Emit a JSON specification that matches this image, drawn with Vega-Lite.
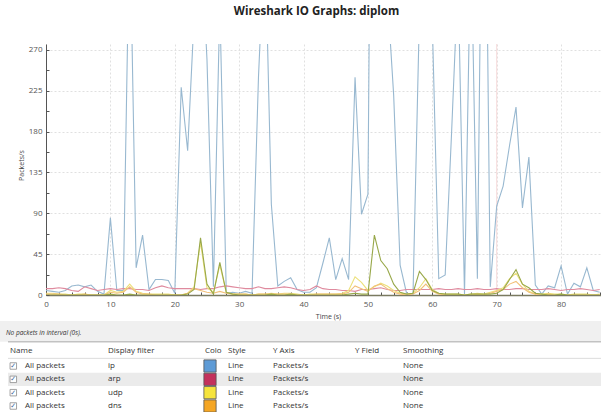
{
  "$schema": "https://vega.github.io/schema/vega-lite/v6.json",
  "autosize": {"type": "none"},
  "padding": {"left": 46, "top": 44, "right": 0, "bottom": 117},
  "width": 555,
  "height": 251,
  "background": "white",
  "config": {"view": {"stroke": null}, "font": "Open Sans"},
  "title": {"text": "Wireshark IO Graphs: diplom", "font": "Open Sans", "fontSize": 11.5, "fontWeight": "bold", "color": "#222222", "anchor": "middle", "dx": -7, "offset": 17, "baseline": "alphabetic"},
  "datasets": {
    "io": [
      {"t":0,"ip":5,"arp":7,"udp":2,"dns":1,"g":0},
      {"t":1,"ip":4,"arp":7,"udp":2,"dns":1,"g":0},
      {"t":2,"ip":3,"arp":8,"udp":1,"dns":1,"g":0},
      {"t":3,"ip":5,"arp":7,"udp":1,"dns":0,"g":0},
      {"t":4,"ip":10,"arp":5,"udp":0,"dns":0,"g":0},
      {"t":5,"ip":11,"arp":4,"udp":1,"dns":0,"g":0},
      {"t":6,"ip":9,"arp":9,"udp":1,"dns":1,"g":0},
      {"t":7,"ip":11,"arp":7,"udp":0,"dns":0,"g":0},
      {"t":8,"ip":4,"arp":5,"udp":0,"dns":0,"g":0},
      {"t":9,"ip":1,"arp":6,"udp":0,"dns":0,"g":0},
      {"t":10,"ip":85,"arp":7,"udp":5,"dns":3,"g":1},
      {"t":11,"ip":5,"arp":6,"udp":3,"dns":2,"g":0},
      {"t":12,"ip":5,"arp":7,"udp":4,"dns":3,"g":0},
      {"t":13,"ip":420,"arp":7,"udp":12,"dns":9,"g":1},
      {"t":14,"ip":30,"arp":6,"udp":4,"dns":3,"g":0},
      {"t":15,"ip":66,"arp":6,"udp":2,"dns":1,"g":0},
      {"t":16,"ip":6,"arp":5,"udp":1,"dns":1,"g":0},
      {"t":17,"ip":17,"arp":8,"udp":1,"dns":0,"g":0},
      {"t":18,"ip":17,"arp":10,"udp":1,"dns":0,"g":0},
      {"t":19,"ip":16,"arp":8,"udp":1,"dns":0,"g":0},
      {"t":20,"ip":2,"arp":7,"udp":0,"dns":0,"g":0},
      {"t":21,"ip":229,"arp":7,"udp":0,"dns":0,"g":0},
      {"t":22,"ip":159,"arp":7,"udp":2,"dns":2,"g":1},
      {"t":23,"ip":306,"arp":7,"udp":9,"dns":7,"g":6},
      {"t":24,"ip":400,"arp":6,"udp":58,"dns":5,"g":63},
      {"t":25,"ip":260,"arp":7,"udp":8,"dns":3,"g":12},
      {"t":26,"ip":9,"arp":7,"udp":3,"dns":2,"g":1},
      {"t":27,"ip":320,"arp":9,"udp":33,"dns":4,"g":36},
      {"t":28,"ip":2,"arp":10,"udp":3,"dns":2,"g":3},
      {"t":29,"ip":3,"arp":9,"udp":1,"dns":1,"g":1},
      {"t":30,"ip":2,"arp":8,"udp":1,"dns":1,"g":0},
      {"t":31,"ip":4,"arp":7,"udp":1,"dns":1,"g":0},
      {"t":32,"ip":2,"arp":7,"udp":0,"dns":0,"g":0},
      {"t":33,"ip":240,"arp":9,"udp":1,"dns":1,"g":0},
      {"t":34,"ip":400,"arp":7,"udp":1,"dns":1,"g":0},
      {"t":35,"ip":100,"arp":7,"udp":2,"dns":1,"g":1},
      {"t":36,"ip":10,"arp":8,"udp":1,"dns":1,"g":0},
      {"t":37,"ip":15,"arp":9,"udp":2,"dns":1,"g":0},
      {"t":38,"ip":19,"arp":8,"udp":2,"dns":1,"g":1},
      {"t":39,"ip":6,"arp":6,"udp":1,"dns":0,"g":0},
      {"t":40,"ip":3,"arp":5,"udp":0,"dns":0,"g":0},
      {"t":41,"ip":3,"arp":6,"udp":1,"dns":0,"g":0},
      {"t":42,"ip":8,"arp":10,"udp":1,"dns":1,"g":0},
      {"t":43,"ip":35,"arp":7,"udp":1,"dns":1,"g":0},
      {"t":44,"ip":63,"arp":6,"udp":1,"dns":1,"g":0},
      {"t":45,"ip":17,"arp":6,"udp":1,"dns":1,"g":0},
      {"t":46,"ip":40,"arp":5,"udp":2,"dns":1,"g":0},
      {"t":47,"ip":17,"arp":5,"udp":5,"dns":3,"g":1},
      {"t":48,"ip":240,"arp":4,"udp":20,"dns":10,"g":2},
      {"t":49,"ip":89,"arp":6,"udp":14,"dns":7,"g":1},
      {"t":50,"ip":111,"arp":6,"udp":5,"dns":4,"g":1},
      {"t":51,"ip":1000,"arp":7,"udp":9,"dns":10,"g":66},
      {"t":52,"ip":600,"arp":8,"udp":13,"dns":12,"g":38},
      {"t":53,"ip":334,"arp":6,"udp":10,"dns":7,"g":29},
      {"t":54,"ip":220,"arp":5,"udp":5,"dns":3,"g":12},
      {"t":55,"ip":33,"arp":5,"udp":2,"dns":1,"g":3},
      {"t":56,"ip":2,"arp":6,"udp":1,"dns":0,"g":1},
      {"t":57,"ip":0,"arp":6,"udp":2,"dns":1,"g":2},
      {"t":58,"ip":310,"arp":6,"udp":8,"dns":5,"g":26},
      {"t":59,"ip":400,"arp":6,"udp":18,"dns":12,"g":17},
      {"t":60,"ip":300,"arp":6,"udp":6,"dns":4,"g":5},
      {"t":61,"ip":18,"arp":7,"udp":2,"dns":1,"g":2},
      {"t":62,"ip":22,"arp":6,"udp":1,"dns":0,"g":1},
      {"t":63,"ip":180,"arp":6,"udp":1,"dns":0,"g":1},
      {"t":64,"ip":350,"arp":7,"udp":1,"dns":0,"g":1},
      {"t":65,"ip":0,"arp":6,"udp":0,"dns":0,"g":0},
      {"t":66,"ip":400,"arp":6,"udp":1,"dns":0,"g":1},
      {"t":67,"ip":18,"arp":7,"udp":2,"dns":1,"g":1},
      {"t":68,"ip":665,"arp":6,"udp":1,"dns":0,"g":1},
      {"t":69,"ip":9,"arp":6,"udp":3,"dns":2,"g":1},
      {"t":70,"ip":98,"arp":7,"udp":5,"dns":4,"g":2},
      {"t":71,"ip":120,"arp":6,"udp":8,"dns":6,"g":6},
      {"t":72,"ip":165,"arp":6,"udp":18,"dns":12,"g":17},
      {"t":73,"ip":207,"arp":7,"udp":24,"dns":15,"g":28},
      {"t":74,"ip":96,"arp":7,"udp":12,"dns":8,"g":12},
      {"t":75,"ip":152,"arp":6,"udp":4,"dns":3,"g":8},
      {"t":76,"ip":11,"arp":6,"udp":1,"dns":1,"g":2},
      {"t":77,"ip":1,"arp":6,"udp":1,"dns":0,"g":1},
      {"t":78,"ip":10,"arp":7,"udp":2,"dns":1,"g":0},
      {"t":79,"ip":8,"arp":6,"udp":1,"dns":0,"g":0},
      {"t":80,"ip":32,"arp":5,"udp":1,"dns":0,"g":1},
      {"t":81,"ip":1,"arp":6,"udp":0,"dns":0,"g":0},
      {"t":82,"ip":13,"arp":6,"udp":1,"dns":0,"g":0},
      {"t":83,"ip":9,"arp":7,"udp":1,"dns":0,"g":0},
      {"t":84,"ip":30,"arp":6,"udp":1,"dns":0,"g":0},
      {"t":85,"ip":5,"arp":5,"udp":0,"dns":0,"g":0},
      {"t":86,"ip":3,"arp":6,"udp":1,"dns":0,"g":0}
    ],
    "marker": [{"t": 70}],
    "note": [{"ri": 0, "ci": 0, "text": "No packets in interval (0s)."}],
    "cells": [
      {"ri": 1, "ci": 1, "text": "Name"},
      {"ri": 1, "ci": 4, "text": "Display filter"},
      {"ri": 1, "ci": 5, "text": "Colo"},
      {"ri": 1, "ci": 7, "text": "Style"},
      {"ri": 1, "ci": 8, "text": "Y Axis"},
      {"ri": 1, "ci": 9, "text": "Y Field"},
      {"ri": 1, "ci": 10, "text": "Smoothing"},
      {"ri": 2, "ci": 3, "text": "All packets"},
      {"ri": 2, "ci": 4, "text": "ip"},
      {"ri": 2, "ci": 7, "text": "Line"},
      {"ri": 2, "ci": 8, "text": "Packets/s"},
      {"ri": 2, "ci": 10, "text": "None"},
      {"ri": 3, "ci": 3, "text": "All packets"},
      {"ri": 3, "ci": 4, "text": "arp"},
      {"ri": 3, "ci": 7, "text": "Line"},
      {"ri": 3, "ci": 8, "text": "Packets/s"},
      {"ri": 3, "ci": 10, "text": "None"},
      {"ri": 4, "ci": 3, "text": "All packets"},
      {"ri": 4, "ci": 4, "text": "udp"},
      {"ri": 4, "ci": 7, "text": "Line"},
      {"ri": 4, "ci": 8, "text": "Packets/s"},
      {"ri": 4, "ci": 10, "text": "None"},
      {"ri": 5, "ci": 3, "text": "All packets"},
      {"ri": 5, "ci": 4, "text": "dns"},
      {"ri": 5, "ci": 7, "text": "Line"},
      {"ri": 5, "ci": 8, "text": "Packets/s"},
      {"ri": 5, "ci": 10, "text": "None"}
    ],
    "graphs": [
      {"ri": 2, "name": "ip"},
      {"ri": 3, "name": "arp"},
      {"ri": 4, "name": "udp"},
      {"ri": 5, "name": "dns"}
    ],
    "one": [{"k": 1}]
  },
  "layer": [
    {
      "data": {"name": "one"},
      "mark": {"type": "rect", "fill": "#f0f0f0"},
      "encoding": {
        "x": {"datum": -2, "type": "quantitative", "scale": {"domain": [-2,-1,0,1,2,3,4,5,6,7,8,9,10,11], "range": [-46,-38,-40,-36,-32.7,-21,62,159,164,182,227,309,357,555], "zero": false, "nice": false}, "axis": null},
        "x2": {"datum": 11},
        "y": {"datum": -1, "type": "quantitative", "scale": {"domain": [-1,0,1,2,5], "range": [277,289,306.7,322,362], "zero": false, "nice": false}, "axis": null},
        "y2": {"datum": 0.5}
      }
    },
    {
      "data": {"name": "one"},
      "mark": {"type": "rect", "fill": "#ebebeb"},
      "encoding": {
        "x": {"datum": -1, "type": "quantitative", "scale": {"domain": [-2,-1,0,1,2,3,4,5,6,7,8,9,10,11], "range": [-46,-38,-40,-36,-32.7,-21,62,159,164,182,227,309,357,555], "zero": false, "nice": false}, "axis": null},
        "x2": {"datum": 11},
        "y": {"datum": 2.5, "type": "quantitative", "scale": {"domain": [-1,0,1,2,5], "range": [277,289,306.7,322,362], "zero": false, "nice": false}, "axis": null},
        "y2": {"datum": 3.5}
      }
    },
    {
      "data": {"name": "one"},
      "mark": {"type": "rule", "color": "#a8a8a8", "strokeWidth": 1},
      "encoding": {
        "x": {"datum": -1, "type": "quantitative", "scale": {"domain": [-2,-1,0,1,2,3,4,5,6,7,8,9,10,11], "range": [-46,-38,-40,-36,-32.7,-21,62,159,164,182,227,309,357,555], "zero": false, "nice": false}, "axis": null},
        "x2": {"datum": 11},
        "y": {"datum": 0.5, "type": "quantitative", "scale": {"domain": [-1,0,1,2,5], "range": [277,289,306.7,322,362], "zero": false, "nice": false}, "axis": null}
      }
    },
    {
      "data": {"name": "one"},
      "mark": {"type": "rule", "color": "#dcdcdc", "strokeWidth": 1},
      "encoding": {
        "x": {"datum": -1, "type": "quantitative", "scale": {"domain": [-2,-1,0,1,2,3,4,5,6,7,8,9,10,11], "range": [-46,-38,-40,-36,-32.7,-21,62,159,164,182,227,309,357,555], "zero": false, "nice": false}, "axis": null},
        "x2": {"datum": 11},
        "y": {"datum": 1.5, "type": "quantitative", "scale": {"domain": [-1,0,1,2,5], "range": [277,289,306.7,322,362], "zero": false, "nice": false}, "axis": null}
      }
    },
    {
      "data": {"name": "marker"},
      "mark": {"type": "rule", "color": "#f7dada", "strokeWidth": 1},
      "encoding": {
        "x": {"field": "t", "type": "quantitative", "scale": {"domain": [0, 86.2], "zero": false, "nice": false}, "axis": null}
      }
    },
    {
      "data": {"name": "io"},
      "transform": [{"fold": ["ip", "arp", "udp", "dns", "g"], "as": ["series", "value"]}],
      "mark": {"type": "line", "clip": true, "strokeWidth": 1.1, "interpolate": "linear"},
      "encoding": {
        "x": {
          "field": "t", "type": "quantitative",
          "scale": {"domain": [0, 86.2], "zero": false, "nice": false},
          "axis": {
            "values": [0,2,4,6,8,10,12,14,16,18,20,22,24,26,28,30,32,34,36,38,40,42,44,46,48,50,52,54,56,58,60,62,64,66,68,70,72,74,76,78,80,82,84,86],
            "labelExpr": "datum.value % 10 === 0 ? datum.label : ''",
            "labelFont": "Open Sans", "labelFontSize": 8, "labelColor": "#555555", "labelPadding": 8, "labelOverlap": false, "labelFlush": false,
            "tickSize": -3, "tickColor": "#555555", "tickWidth": 1,
            "domainColor": "#7a7a60", "domainWidth": 1.5,
            "grid": true, "gridColor": "#e0e0e0", "gridDash": [2, 2],
            "gridOpacity": {"condition": {"test": "datum.value % 10 === 0", "value": 1}, "value": 0},
            "title": "Time (s)", "titleFont": "Open Sans", "titleFontSize": 7, "titleFontWeight": "normal", "titleColor": "#444444",
            "titleX": 282, "titleY": 23, "titleAlign": "center", "titleBaseline": "alphabetic"
          }
        },
        "y": {
          "field": "value", "type": "quantitative",
          "scale": {"domain": [0, 276.6], "zero": false, "nice": false},
          "axis": {
            "values": [0,22.5,45,67.5,90,112.5,135,157.5,180,202.5,225,247.5,270],
            "labelExpr": "datum.value % 45 === 0 ? datum.label : ''",
            "labelFont": "Open Sans", "labelFontSize": 8, "labelColor": "#555555", "labelPadding": 7, "labelOverlap": false, "labelFlush": false,
            "tickSize": -3, "tickColor": "#555555", "tickWidth": 1,
            "domainColor": "#555555", "domainWidth": 1,
            "grid": true, "gridColor": "#e0e0e0", "gridDash": [2, 2],
            "gridOpacity": {"condition": {"test": "datum.value % 45 === 0", "value": 1}, "value": 0},
            "title": "Packets/s", "titleFont": "Open Sans", "titleFontSize": 7, "titleFontWeight": "normal", "titleColor": "#444444",
            "titleX": -25, "titleY": 121, "titleAngle": -90, "titleAlign": "center", "titleBaseline": "middle"
          }
        },
        "color": {
          "field": "series", "type": "nominal",
          "scale": {"domain": ["ip", "arp", "udp", "dns", "g"], "range": ["#98b8d0", "#df8a9e", "#ece07a", "#f2c078", "#98a84a"]},
          "legend": null
        }
      }
    },
    {
      "data": {"name": "note"},
      "mark": {"type": "text", "align": "left", "baseline": "middle", "font": "Open Sans", "fontSize": 6.5, "fontStyle": "italic", "color": "#333333"},
      "encoding": {
        "x": {"field": "ci", "type": "quantitative", "scale": {"domain": [-2,-1,0,1,2,3,4,5,6,7,8,9,10,11], "range": [-46,-38,-40,-36,-32.7,-21,62,159,164,182,227,309,357,555], "zero": false, "nice": false}, "axis": null},
        "y": {"field": "ri", "type": "quantitative", "scale": {"domain": [-1,0,1,2,5], "range": [277,289,306.7,322,362], "zero": false, "nice": false}, "axis": null},
        "text": {"field": "text"}
      }
    },
    {
      "data": {"name": "cells"},
      "mark": {"type": "text", "align": "left", "baseline": "middle", "font": "Open Sans", "fontSize": 8, "color": "#333333"},
      "encoding": {
        "x": {"field": "ci", "type": "quantitative", "scale": {"domain": [-2,-1,0,1,2,3,4,5,6,7,8,9,10,11], "range": [-46,-38,-40,-36,-32.7,-21,62,159,164,182,227,309,357,555], "zero": false, "nice": false}, "axis": null},
        "y": {"field": "ri", "type": "quantitative", "scale": {"domain": [-1,0,1,2,5], "range": [277,289,306.7,322,362], "zero": false, "nice": false}, "axis": null},
        "text": {"field": "text"}
      }
    },
    {
      "data": {"name": "graphs"},
      "mark": {"type": "square", "size": 42, "fill": "#ffffff", "stroke": "#8c8c8c", "strokeWidth": 0.8, "opacity": 1},
      "encoding": {
        "x": {"datum": 2, "type": "quantitative", "scale": {"domain": [-2,-1,0,1,2,3,4,5,6,7,8,9,10,11], "range": [-46,-38,-40,-36,-32.7,-21,62,159,164,182,227,309,357,555], "zero": false, "nice": false}, "axis": null},
        "y": {"field": "ri", "type": "quantitative", "scale": {"domain": [-1,0,1,2,5], "range": [277,289,306.7,322,362], "zero": false, "nice": false}, "axis": null}
      }
    },
    {
      "data": {"name": "graphs"},
      "mark": {"type": "text", "text": "✓", "align": "center", "baseline": "middle", "font": "DejaVu Sans", "fontSize": 7, "color": "#3e6aa0"},
      "encoding": {
        "x": {"datum": 2, "type": "quantitative", "scale": {"domain": [-2,-1,0,1,2,3,4,5,6,7,8,9,10,11], "range": [-46,-38,-40,-36,-32.7,-21,62,159,164,182,227,309,357,555], "zero": false, "nice": false}, "axis": null},
        "y": {"field": "ri", "type": "quantitative", "scale": {"domain": [-1,0,1,2,5], "range": [277,289,306.7,322,362], "zero": false, "nice": false}, "axis": null}
      }
    },
    {
      "data": {"name": "graphs"},
      "mark": {"type": "square", "size": 150, "stroke": "#555555", "strokeWidth": 0.8, "opacity": 1},
      "encoding": {
        "x": {"datum": 6, "type": "quantitative", "scale": {"domain": [-2,-1,0,1,2,3,4,5,6,7,8,9,10,11], "range": [-46,-38,-40,-36,-32.7,-21,62,159,164,182,227,309,357,555], "zero": false, "nice": false}, "axis": null},
        "y": {"field": "ri", "type": "quantitative", "scale": {"domain": [-1,0,1,2,5], "range": [277,289,306.7,322,362], "zero": false, "nice": false}, "axis": null},
        "fill": {"field": "name", "type": "nominal", "scale": {"domain": ["ip", "arp", "udp", "dns"], "range": ["#5e9bd6", "#c3315c", "#f6e43c", "#f5a623"]}, "legend": null}
      }
    }
  ],
  "resolve": {"scale": {"x": "independent", "y": "independent", "color": "independent", "fill": "independent"}}
}
